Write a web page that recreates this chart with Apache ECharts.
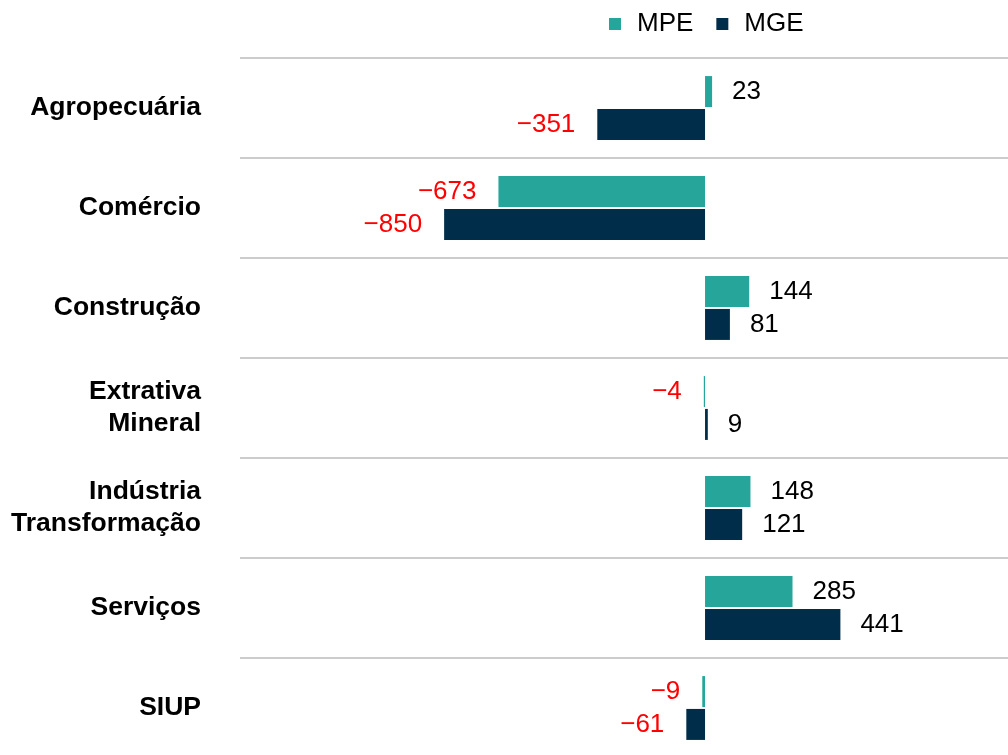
<!DOCTYPE html>
<html>
<head>
    <meta charset="utf-8">
    <title>MPE x MGE por setor</title>
    <style>
        html, body { margin: 0; padding: 0; background: #fff; overflow: hidden; }
        #main { width: 1008px; height: 760px; }
    </style>
</head>
<body>
<div id="main"></div>
<script src="https://cdn.jsdelivr.net/npm/echarts@6/dist/echarts.min.js"></script>
<script>
    // dados
    var setores = ['Agropecuária', 'Comércio', 'Construção', 'Extrativa\nMineral', 'Indústria\nTransformação', 'Serviços', 'SIUP'];
    var mpe = [23, -673, 144, -4, 148, 285, -9];
    var mge = [-351, -850, 81, 9, 121, 441, -61];

    var fonte = "'Liberation Sans', Arial, sans-serif";

    // negativos em vermelho à esquerda, positivos em preto à direita
    function montar(valores) {
        return valores.map(function (v) {
            return {
                value: v,
                label: {
                    position: v < 0 ? 'left' : 'right',
                    distance: v < 0 ? 22 : 20,
                    color: v < 0 ? '#ff0000' : '#000000'
                }
            };
        });
    }

    function rotulo(p) {
        return p.value < 0 ? '\u2212' + Math.abs(p.value) : String(p.value);
    }

    var myChart = echarts.init(document.getElementById('main'));
    var option = {
        backgroundColor: '#ffffff',
        animation: false,
        textStyle: { fontFamily: fonte },
        legend: {
            left: 609,
            top: 11,
            padding: 0,
            itemWidth: 12,
            itemHeight: 12,
            itemGap: 23,
            icon: 'rect',
            textStyle: { fontSize: 26, color: '#000', fontFamily: fonte, padding: [0, 0, 0, 11] },
            data: ['MPE', 'MGE']
        },
        grid: { left: 240, right: 0, top: 58, height: 700 },
        xAxis: {
            type: 'value',
            min: -1515,
            max: 987,
            show: false
        },
        yAxis: {
            type: 'category',
            inverse: true,
            data: setores,
            axisLine: { show: false },
            axisTick: { show: false },
            axisLabel: {
                margin: 39,
                fontSize: 26.5,
                fontWeight: 'bold',
                color: '#000',
                lineHeight: 32,
                padding: [4, 0, 0, 0],
                fontFamily: fonte
            },
            splitLine: { show: true, lineStyle: { color: '#cccccc', width: 2 } }
        },
        series: [{
            name: 'MPE',
            type: 'bar',
            barWidth: 31,
            barGap: '6%',
            itemStyle: { color: '#26a69a' },
            label: { show: true, fontSize: 26, fontFamily: fonte, padding: [4, 0, 0, 0], formatter: rotulo },
            data: montar(mpe)
        }, {
            name: 'MGE',
            type: 'bar',
            barWidth: 31,
            barGap: '6%',
            itemStyle: { color: '#002d4a' },
            label: { show: true, fontSize: 26, fontFamily: fonte, padding: [4, 0, 0, 0], formatter: rotulo },
            data: montar(mge)
        }]
    };
    myChart.setOption(option);
</script>
</body>
</html>
